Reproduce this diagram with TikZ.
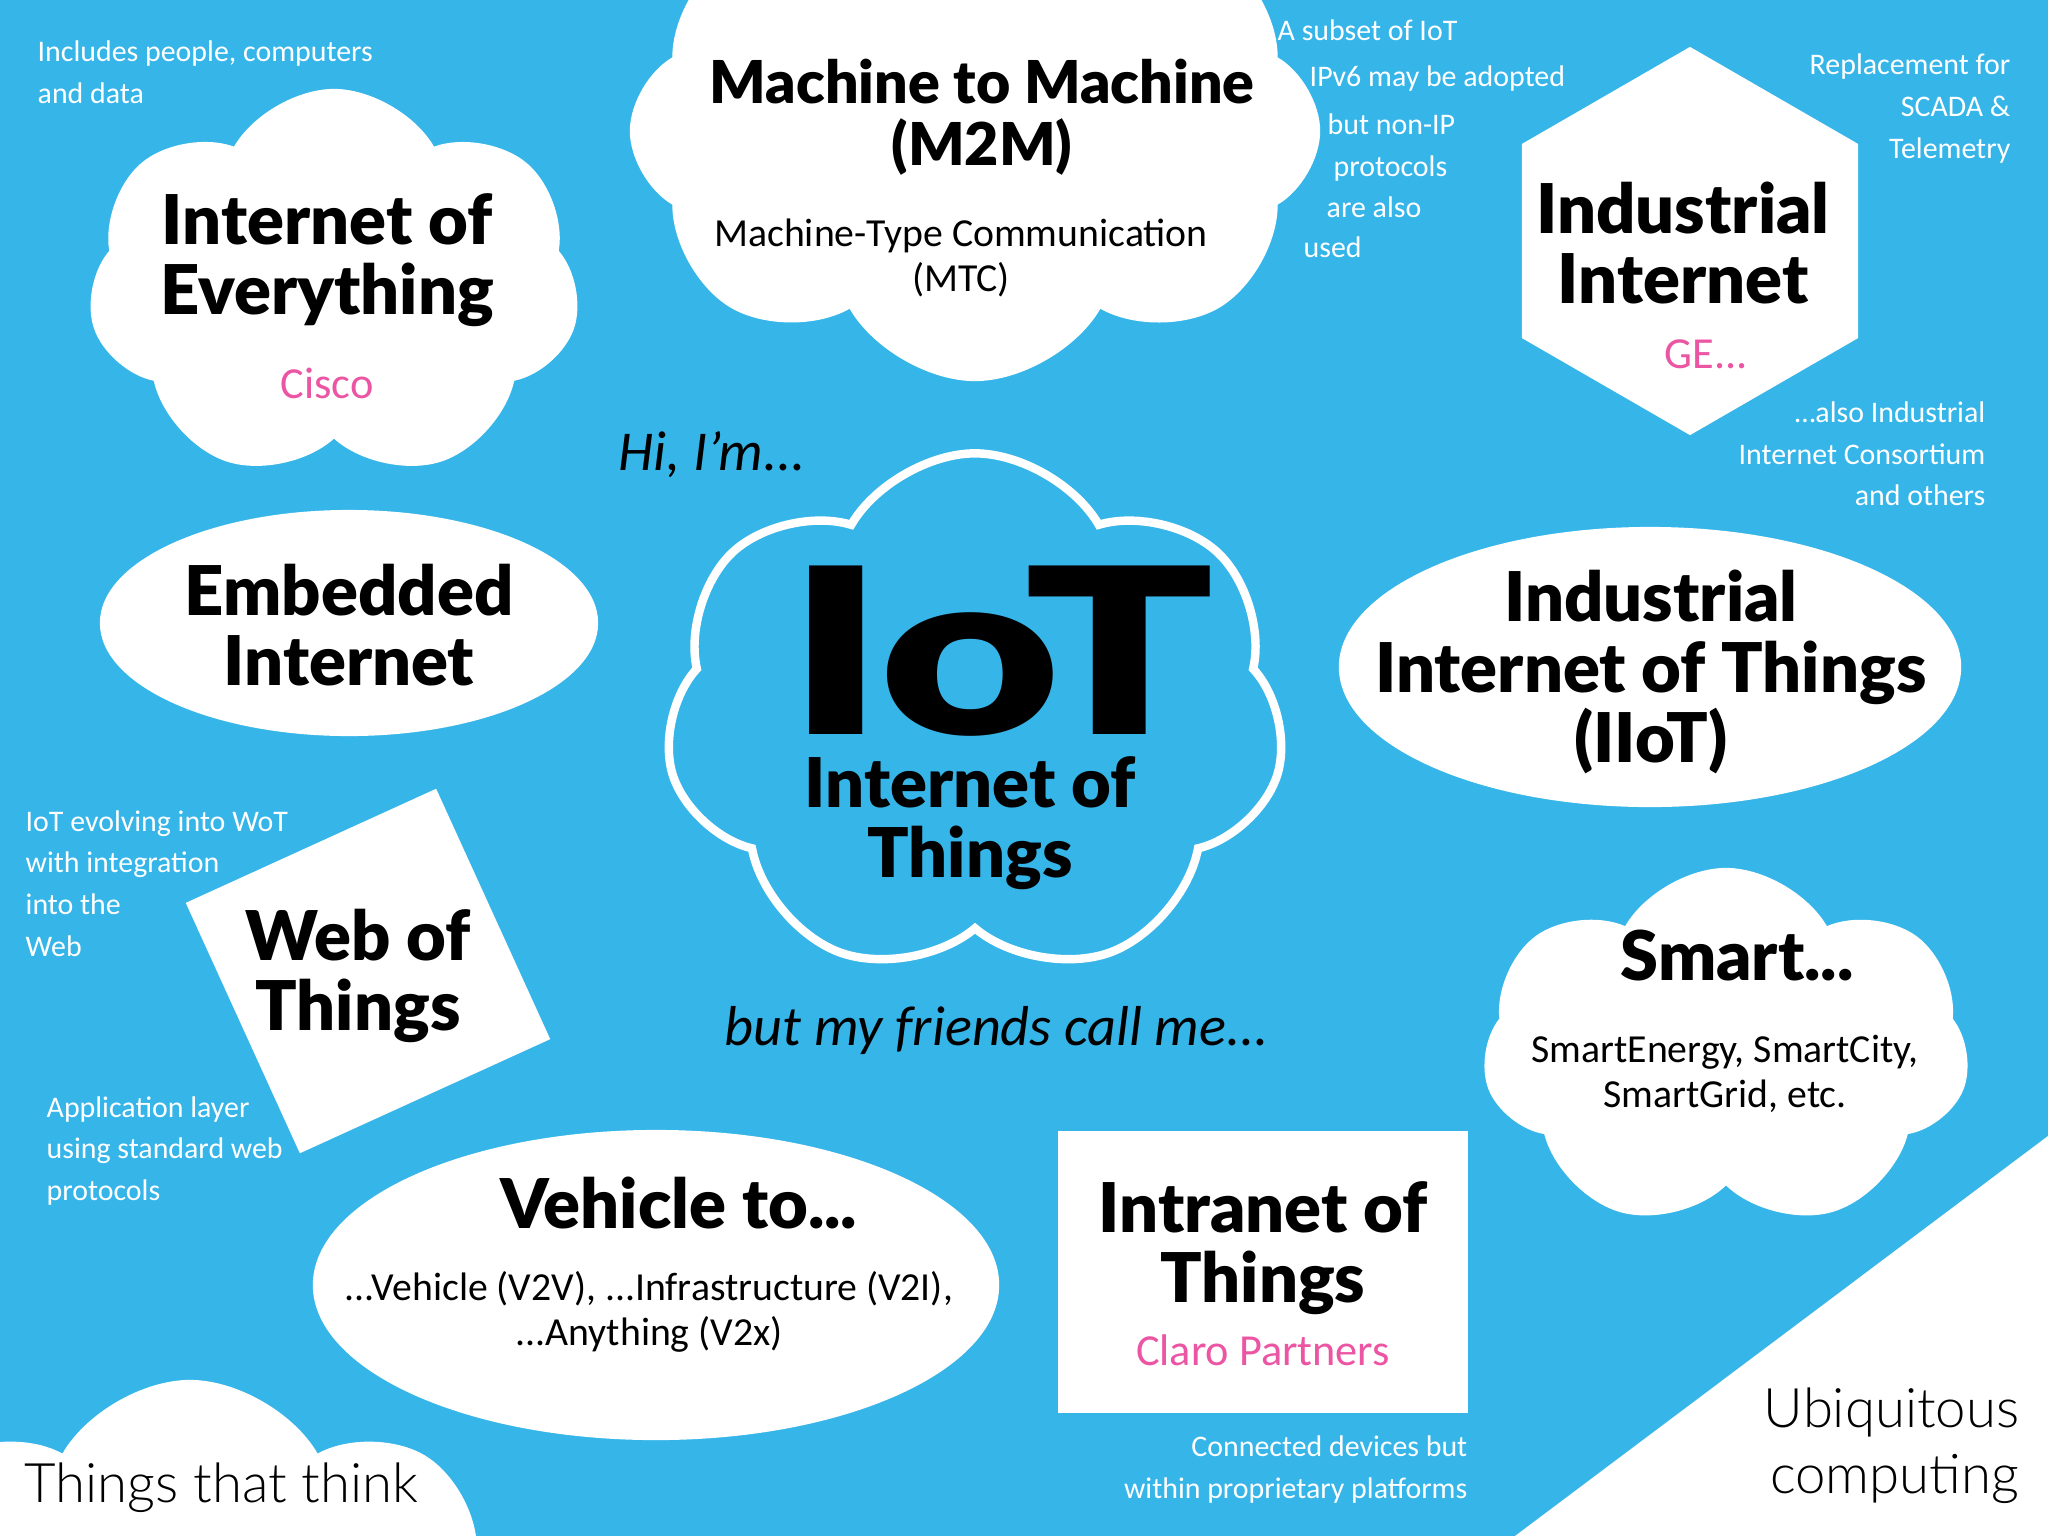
\documentclass[tikz,border=0pt]{standalone}
\usepackage{fontspec}
\usepackage{graphicx}
\setmainfont{Carlito}
\IfFontExistsTF{Lato Black}
	{\newfontfamily\heavyfont{Lato Black}}
	{\IfFontExistsTF{Fira Sans Black}
		{\newfontfamily\heavyfont{Fira Sans Black}}
		{\newfontfamily\heavyfont{Lato}[UprightFont=*-Bold]}}
\IfFontExistsTF{Lato Light}
	{\newfontfamily\thinfont{Lato Light}}
	{\IfFontExistsTF{Fira Sans Light}
		{\newfontfamily\thinfont{Fira Sans Light}}
		{\newfontfamily\thinfont{Carlito}}}
\usetikzlibrary{shapes.symbols,shapes.geometric}
\definecolor{skyblue}{RGB}{54,181,233}
\definecolor{brandpink}{RGB}{236,85,163}
\newcommand{\headsize}{\heavyfont\fontsize{19.5}{20}\selectfont}

\begin{document}
\begin{tikzpicture}[x=0.01cm,y=-0.01cm,
	blob/.style={fill=white,draw=none,inner sep=0pt},
	puffy/.style={blob,cloud,cloud puffs=7,cloud puff arc=120},
	oval/.style={blob,ellipse},
	heading/.style={font=\headsize,align=center,inner sep=0pt},
	brand/.style={font=\fontsize{12.6}{15}\selectfont,text=brandpink,inner sep=0pt,anchor=base},
	subline/.style={font=\fontsize{11.3}{12.8}\selectfont,align=center,inner sep=0pt},
	note/.style={font=\fontsize{8.5}{12}\selectfont,text=white,inner sep=0pt},
	thin/.style={font=\thinfont\fontsize{15.5}{19}\selectfont,inner sep=0pt},
	chat/.style={font=\itshape\fontsize{16}{20}\selectfont,inner sep=0pt,anchor=base}]

	\useasboundingbox (0,0) rectangle (2048,1536);
	\clip (0,0) rectangle (2048,1536);
	\fill[skyblue] (0,0) rectangle (2048,1536);

	% corner for ubiquitous computing
	\coordinate (ubi1) at (2048,1136);
	\coordinate (ubi2) at (1515,1536);
	\coordinate (ubi3) at (2048,1536);
	\fill[white] (ubi1) -- (ubi2) -- (ubi3) -- cycle;

	% shapes
	\node[puffy,minimum width=4.92cm,minimum height=3.92cm] (ioe) at (334,285) {};
	\node[puffy,cloud puffs=8,minimum width=6.9cm,minimum height=5cm] (m2m) at (975,131) {};
	\node[blob,regular polygon,regular polygon sides=6,rotate=30,minimum size=3.88cm] (ii) at (1690,241) {};
	\node[oval,minimum width=4.98cm,minimum height=2.26cm] (emb) at (349,623) {};
	\node[oval,minimum width=6.22cm,minimum height=2.8cm] (iiot) at (1650,667) {};
	\node[blob,rectangle,rotate=24.5,minimum width=2.75cm,minimum height=2.75cm] (wot) at (368,971) {};
	\node[puffy,minimum width=4.87cm,minimum height=3.62cm] (smart) at (1726,1049) {};
	\node[oval,minimum width=6.86cm,minimum height=3.1cm] (v2x) at (656,1285) {};
	\node[blob,rectangle,minimum width=4.1cm,minimum height=2.82cm] (intra) at (1263,1272) {};
	\node[puffy,minimum width=6cm,minimum height=4cm] (ttt) at (190,1580) {};
	\node[cloud,cloud puffs=7,cloud puff arc=120,fill=skyblue,draw=white,line width=2.4pt,
		minimum width=6.2cm,minimum height=5.25cm] (iot) at (975,716) {};

	% titles
	\node[heading] (ioe text) at (327,260) {Internet of\\Everything};
	\node[brand] (ioe by) at (327,398) {Cisco};
	\node[heading,font=\heavyfont\fontsize{16.8}{17.6}\selectfont] (m2m text) at (982,117) {Machine to Machine\\(M2M)};
	\node[subline] (mtc) at (961,258) {Machine-Type Communication\\(MTC)};
	\node[heading] (ii text) at (1683,243) {Industrial\\Internet};
	\node[brand] (ii by) at (1706,368) {GE...};
	\node[font=\heavyfont\fontsize{70}{70}\selectfont,inner sep=0pt,anchor=base] (iot big) at (1001,734) {\scalebox{1.27}[0.94]{IoT}};
	\node[heading] (iot text) at (970,823) {Internet of\\Things};
	\node[heading] (emb text) at (349,625) {Embedded\\Internet};
	\node[heading] (iiot text) at (1651,672) {Industrial\\Internet of Things\\(IIoT)};
	\node[heading] (wot text) at (358,976) {Web of\\Things};
	\node[heading,anchor=base] (smart text) at (1737,980) {Smart...};
	\node[subline] (smart sub) at (1725,1074) {SmartEnergy, SmartCity,\\SmartGrid, etc.};
	\node[heading,anchor=base] (v2x text) at (679,1228) {Vehicle to...};
	\node[subline] (v2x sub) at (649,1312) {...Vehicle (V2V), ...Infrastructure (V2I),\\...Anything (V2x)};
	\node[heading] (intra text) at (1263,1248) {Intranet of\\Things};
	\node[brand] (intra by) at (1263,1365) {Claro Partners};

	% remarks
	\node[chat,anchor=base west] (hi) at (618,470) {Hi, I’m...};
	\node[chat] (friends) at (997,1045) {but my friends call me...};
	\node[thin,anchor=base west] (think) at (24,1502) {Things that think};
	\node[thin,anchor=base east] (ubi a) at (2020,1427) {Ubiquitous};
	\node[thin,anchor=base east] (ubi b) at (2020,1493) {computing};

	% side notes
	\foreach \t/\x/\y in {{Includes people, computers}/37/61, {and data}/37/103,
		{A subset of IoT}/1277/40, {IPv6 may be adopted}/1309/86, {but non-IP}/1327/134,
		{protocols}/1333/176, {are also}/1326/217, {used}/1303/257,
		{IoT evolving into WoT}/25/831, {with integration}/25/872, {into the}/25/914, {Web}/25/956,
		{Application layer}/46/1117, {using standard web}/46/1158, {protocols}/46/1200}
		\node[note,anchor=base west] at (\x,\y) {\t};
	\foreach \t/\x/\y in {{Replacement for}/2011/74, {SCADA \&}/2011/116, {Telemetry}/2011/158,
		{{\dots}also Industrial}/1986/422, {Internet Consortium}/1986/464, {and others}/1986/505,
		{Connected devices but}/1468/1456, {within proprietary platforms}/1468/1498}
		\node[note,anchor=base east] at (\x,\y) {\t};
\end{tikzpicture}
\end{document}
